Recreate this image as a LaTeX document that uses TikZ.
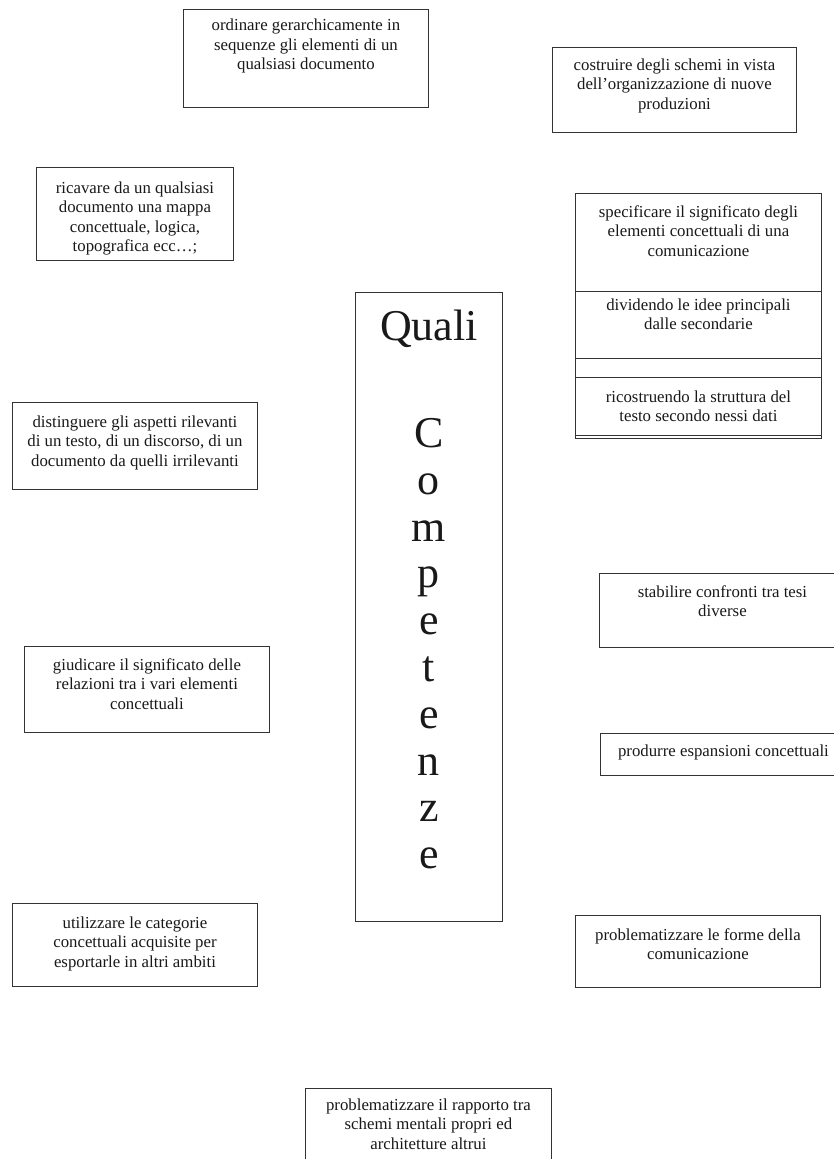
\documentclass[tikz,border=0pt]{standalone}
\usepackage{fontspec}
\setmainfont{Liberation Serif}
\tikzset{
  tb/.style={draw=black!80, line width=0.9pt, inner sep=0pt, fill=white,
    font=\fontsize{16.8}{19.5}\selectfont, text=black!90}
}
\newcommand\tbox[7]{% name,x,y,w,h,pad,text
  \node[tb, anchor=north west] (#1) at (#2,#3)
    {\parbox[c][#5pt][t]{#4pt}{\centering\vspace*{#6pt}\strut #7\par}};}
\begin{document}
\begin{tikzpicture}[x=1pt,y=-1pt]
\clip (0,0) rectangle (834,1159);
\fill[white] (0,0) rectangle (834,1159);
\tbox{ord}{183}{9}{245}{98}{7.4}{ordinare gerarchicamente in\\sequenze gli elementi di un\\qualsiasi documento}
\tbox{cos}{552}{47}{244}{85}{9.3}{costruire degli schemi in vista\\dell’organizzazione di nuove\\produzioni}
\tbox{ric}{36}{167}{197}{93}{12.3}{ricavare da un qualsiasi\\documento una mappa\\concettuale, logica,\\topografica ecc…;}
\tbox{spe}{575}{193}{246}{98}{10.3}{specificare il significato degli\\elementi concettuali di una\\comunicazione}
\tbox{div}{575}{291}{246}{67}{5.3}{dividendo le idee principali\\dalle secondarie}
\tbox{vuo}{575}{358}{246}{19}{0}{}
\tbox{rco}{575}{377}{246}{61}{11.3}{ricostruendo la struttura del\\testo secondo nessi dati}
\draw[draw=black!80, line width=0.9pt] ([yshift=3pt]rco.south west) -- ([yshift=3pt]rco.south east);
\node[tb, anchor=north west] (qc) at (355,292)
  {\parbox[c][629pt][t]{147pt}{\centering\fontsize{44}{46.8}\selectfont
   \vspace*{15.2pt}\strut Quali\par\vspace*{60.2pt}
   C\par o\par m\par p\par e\par t\par e\par n\par z\par e\par}};
\tbox{dis}{12}{402}{245}{87}{11.3}{distinguere gli aspetti rilevanti\\di un testo, di un discorso, di un\\documento da quelli irrilevanti}
\tbox{sta}{599}{573}{246}{74}{10.3}{stabilire confronti tra tesi\\diverse}
\tbox{giu}{24}{646}{245}{86}{10.3}{giudicare il significato delle\\relazioni tra i vari elementi\\concettuali}
\tbox{pro}{600}{733}{246}{42}{9.3}{produrre espansioni concettuali}
\tbox{uti}{12}{903}{245}{83}{11.3}{utilizzare le categorie\\concettuali acquisite per\\esportarle in altri ambiti}
\tbox{pfo}{575}{915}{245}{72}{11.3}{problematizzare le forme della\\comunicazione}
\tbox{pra}{305}{1088}{246}{78}{8.3}{problematizzare il rapporto tra\\schemi mentali propri ed\\architetture altrui}
\end{tikzpicture}
\end{document}
